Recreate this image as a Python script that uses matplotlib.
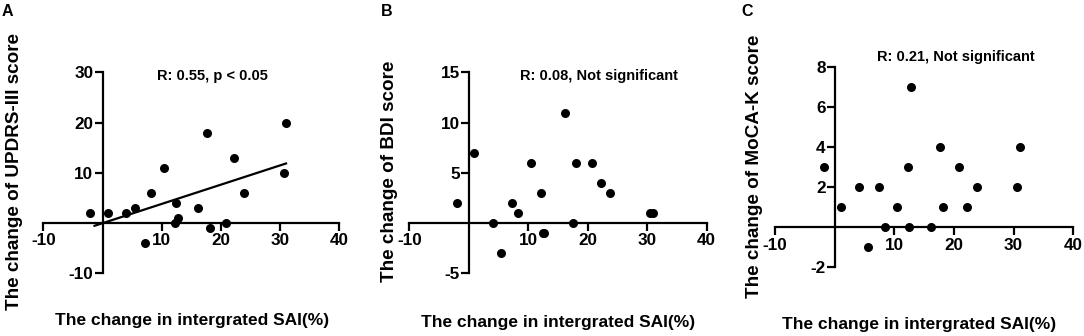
import numpy as np
import matplotlib
matplotlib.use("Agg")
import matplotlib.pyplot as plt

plt.rcParams["font.family"] = ["Liberation Sans", "DejaVu Sans"]
plt.rcParams["font.weight"] = "bold"
plt.rcParams["axes.unicode_minus"] = False

# Data (change in integrated SAI % vs change in score)
sai_a = [-2.1, 0.9, 3.9, 5.5, 7.2, 8.2, 10.4, 12.2, 12.4, 12.7, 16.1, 17.6, 18.1, 20.9, 22.2, 23.9, 30.6, 31.0]
updrs = [2, 2, 2, 3, -4, 6, 11, 0, 4, 1, 3, 18, -1, 0, 13, 6, 10, 20]

sai_b = [-2.0, 0.9, 4.0, 5.5, 7.2, 8.2, 10.4, 12.2, 12.4, 12.7, 16.1, 17.5, 18.1, 20.8, 22.2, 23.8, 30.5, 31.0]
bdi = [2, 7, 0, -3, 2, 1, 6, 3, -1, -1, 11, 0, 6, 6, 4, 3, 1, 1]

sai_c = [-1.8, 1.1, 4.1, 5.6, 7.4, 8.4, 10.5, 12.3, 12.5, 12.8, 16.1, 17.6, 18.2, 20.9, 22.2, 23.9, 30.6, 31.1]
moca = [3, 1, 2, -1, 2, 0, 1, 3, 0, 7, 0, 4, 1, 3, 1, 2, 2, 4]

x_ticks = [-10, 10, 20, 30, 40]

W, H = 1084, 336


def frac_box(left, top, right, bottom):
    return [left / W, 1 - bottom / H, (right - left) / W, (bottom - top) / H]


panels = [
    dict(letter="A", x=sai_a, y=updrs, box=(43.3, 72.3, 339.3, 273.3), ylim=(-10, 30),
         yticks=[-10, 10, 20, 30], ylabel="The change of UPDRS-III score",
         note="R: 0.55, p < 0.05", note_xy=(212, 76), fit=True,
         letter_xy=(2, 11), ylabel_xy=(15, 171), xlabel_xy=(192.5, 321)),
    dict(letter="B", x=sai_b, y=bdi, box=(409.3, 72.3, 706.7, 273.3), ylim=(-5, 15),
         yticks=[-5, 5, 10, 15], ylabel="The change of BDI score",
         note="R: 0.08, Not significant", note_xy=(599, 76), fit=False,
         letter_xy=(381, 11), ylabel_xy=(390, 171.5), xlabel_xy=(558, 322)),
    dict(letter="C", x=sai_c, y=moca, box=(775, 66.7, 1073.3, 267.3), ylim=(-2, 8),
         yticks=[-2, 2, 4, 6, 8], ylabel="The change of MoCA-K score",
         note="R: 0.21, Not significant", note_xy=(956, 57), fit=False,
         letter_xy=(741, 11), ylabel_xy=(754.5, 166), xlabel_xy=(919, 325)),
]

fig = plt.figure(figsize=(W / 100, H / 100), dpi=100)

for p in panels:
    ax = fig.add_axes(frac_box(*p["box"]))
    ax.set_xlim(-10, 40)
    ax.set_ylim(*p["ylim"])
    for side in ["top", "right"]:
        ax.spines[side].set_visible(False)
    for side in ["left", "bottom"]:
        ax.spines[side].set_position(("data", 0))
        ax.spines[side].set_linewidth(1.6)
    ax.set_xticks(x_ticks)
    ax.set_yticks(p["yticks"])
    ax.tick_params(axis="both", direction="out", length=5.5, width=1.6,
                   labelsize=12.3, pad=1)
    ax.tick_params(axis="x", pad=2)
    for lab in ax.get_xticklabels() + ax.get_yticklabels():
        lab.set_fontweight("bold")
    ax.patch.set_visible(False)

    ax.scatter(p["x"], p["y"], s=30, color="black", zorder=3, clip_on=False)

    if p["fit"]:
        slope, intercept = np.polyfit(p["x"], p["y"], 1)
        xs = np.array([-1.35, max(p["x"])])
        ax.plot(xs, slope * xs + intercept, color="black", lw=1.6)

    fig.text(p["note_xy"][0] / W, 1 - p["note_xy"][1] / H, p["note"],
             ha="center", va="center", fontsize=10.5, fontweight="bold")
    fig.text(p["letter_xy"][0] / W, 1 - p["letter_xy"][1] / H, p["letter"],
             ha="left", va="center", fontsize=11.5, fontweight="bold")
    fig.text(p["ylabel_xy"][0] / W, 1 - p["ylabel_xy"][1] / H, p["ylabel"],
             ha="center", va="center", rotation=90, fontsize=13.6, fontweight="bold")
    fig.text(p["xlabel_xy"][0] / W, 1 - p["xlabel_xy"][1] / H,
             "The change in intergrated SAI(%)",
             ha="center", va="center", fontsize=12.5, fontweight="bold")

fig.savefig("out.png", dpi=100)
